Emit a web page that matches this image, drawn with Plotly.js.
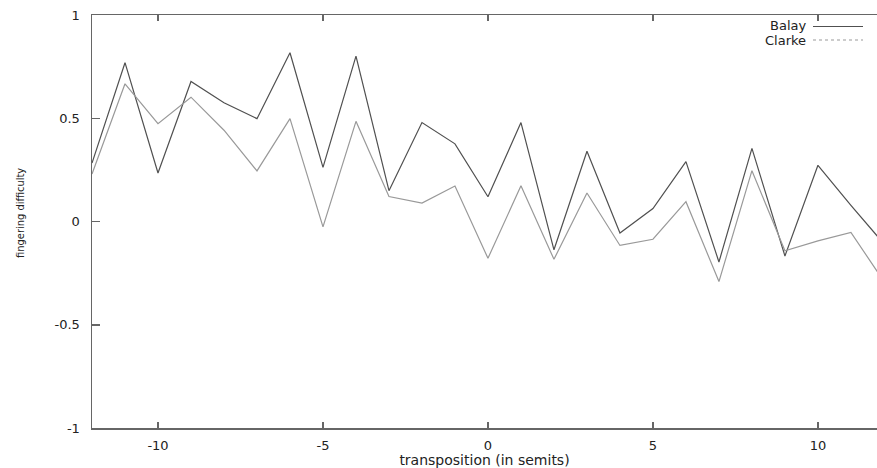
<!DOCTYPE html>
<html>
<head>
<meta charset="utf-8">
<script src="https://cdn.plot.ly/plotly-3.0.1.min.js"></script>
<style>html,body{margin:0;padding:0;background:#fff;}#chart{width:877px;height:468px;}</style>
</head>
<body>
<div id="chart"></div>
<script>
const transposition = [-12,-11,-10,-9,-8,-7,-6,-5,-4,-3,-2,-1,0,1,2,3,4,5,6,7,8,9,10,11,12];
const balay  = [0.283,0.769,0.235,0.678,0.575,0.498,0.817,0.262,0.801,0.149,0.479,0.376,0.120,0.479,-0.137,0.340,-0.056,0.063,0.290,-0.196,0.354,-0.167,0.272,0.078,-0.108];
const clarke = [0.230,0.667,0.474,0.602,0.442,0.245,0.498,-0.026,0.485,0.121,0.089,0.172,-0.178,0.173,-0.183,0.138,-0.116,-0.086,0.096,-0.291,0.246,-0.142,-0.094,-0.053,-0.29];
const xTicks = [-10,-5,0,5,10];
const yTicks = [-1,-0.5,0,0.5,1];
const yTickText = ['-1','-0.5','0','0.5','1'];

const tickFont = {family: 'DejaVu Sans, sans-serif', size: 13, color: '#222'};
const titleFont = {family: 'DejaVu Sans, sans-serif', size: 14, color: '#222'};
const legendFont = {family: 'DejaVu Sans, sans-serif', size: 13, color: '#222'};
const traces = [
  {x: transposition, y: balay, type: 'scatter', mode: 'lines', name: 'Balay',
   line: {color: '#505050', width: 1.2}, showlegend: false},
  {x: transposition, y: clarke, type: 'scatter', mode: 'lines', name: 'Clarke',
   line: {color: '#999999', width: 1.2}, showlegend: false}
];
const layout = {
  width: 877, height: 468,
  margin: {l: 92, r: 0, t: 15, b: 40},
  paper_bgcolor: '#fff', plot_bgcolor: '#fff',
  font: tickFont,
  xaxis: {
    range: [-12, 11.79], tickvals: xTicks, ticktext: xTicks.map(String),
    ticks: 'inside', ticklen: 6, tickcolor: '#666', tickwidth: 1.5,
    showline: true, linecolor: '#666', linewidth: 1.5, mirror: 'ticks',
    showgrid: false, zeroline: false, ticklabelstandoff: 5, tickfont: tickFont,
    title: {text: 'transposition (in semits)', font: titleFont, standoff: 2}
  },
  yaxis: {
    range: [-1, 1], tickvals: yTicks, ticktext: yTickText,
    ticks: 'inside', ticklen: 8, tickcolor: '#666', tickwidth: 1.5,
    showline: true, linecolor: '#666', linewidth: 1.5, mirror: false,
    showgrid: false, zeroline: false, ticklabelstandoff: 8, tickfont: tickFont
  },
  annotations: [
    {text: 'fingering difficulty', xref: 'paper', yref: 'paper', x: (20-92)/785, y: (428-213)/413,
     xanchor: 'center', yanchor: 'middle', textangle: -90, showarrow: false,
     font: {family: 'DejaVu Sans Condensed, DejaVu Sans, sans-serif', size: 11, color: '#222'}},
    {text: 'Balay', xref: 'paper', yref: 'paper', x: (807-92)/785, y: (428-26)/413,
     xanchor: 'right', yanchor: 'middle', showarrow: false, font: legendFont, borderpad: 0},
    {text: 'Clarke', xref: 'paper', yref: 'paper', x: (807-92)/785, y: (428-40.5)/413,
     xanchor: 'right', yanchor: 'middle', showarrow: false, font: legendFont, borderpad: 0}
  ],
  shapes: [
    {type: 'line', xref: 'paper', yref: 'paper', x0: (813-92)/785, x1: (863-92)/785,
     y0: (428-26.5)/413, y1: (428-26.5)/413, line: {color: '#505050', width: 1.2}},
    {type: 'line', xref: 'paper', yref: 'paper', x0: (813-92)/785, x1: (863-92)/785,
     y0: (428-40)/413, y1: (428-40)/413, line: {color: '#999999', width: 1.2, dash: 'dot'}}
  ]
};
Plotly.newPlot('chart', traces, layout, {staticPlot: true, displayModeBar: false});
</script>
</body>
</html>
